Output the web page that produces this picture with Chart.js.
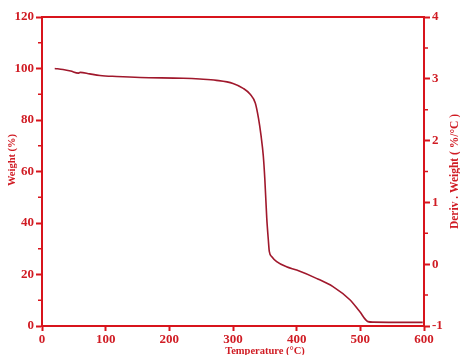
<!DOCTYPE html>
<html>
<head>
<meta charset="utf-8">
<script src="https://cdn.jsdelivr.net/npm/chart.js@4"></script>
<style>
html,body{margin:0;padding:0;background:#fff;}
#wrap{width:460px;height:355px;position:relative;}
</style>
</head>
<body>
<div id="wrap"><canvas id="c" width="460" height="355"></canvas></div>
<script>
// Data
const temperature = [20, 33, 45, 57, 60, 75, 91, 117, 154, 222, 248, 274, 300, 316, 327, 335, 340, 344, 347.6, 350, 353, 355.5, 357, 361, 368.6, 384, 400, 431, 457, 484, 499, 512, 520, 598];
const weight =      [100.0, 99.6, 99.0, 98.2, 98.5, 97.9, 97.3, 96.9, 96.5, 96.2, 95.9, 95.4, 94.2, 92.3, 90.0, 86.6, 80.7, 74.0, 66.0, 57.0, 42.0, 33.4, 29.0, 26.9, 25.0, 23.0, 21.7, 18.5, 15.3, 10.1, 5.6, 1.7, 1.5, 1.4];
const xTicks = [0, 100, 200, 300, 400, 500, 600];
const weightTicks = [0, 20, 40, 60, 80, 100, 120];
const derivTicks = [-1, 0, 1, 2, 3, 4];
const xTitle = "Temperature (°C)";
const yTitle = "Weight (%)";
const y1Title = "Deriv . Weight ( %/°C )";

const RED = '#d8141c';
const TXT = '#d01c24';
const CURVE = '#a0182c';
const FONT = '"Liberation Serif", "Times New Roman", serif';

const points = temperature.map((t, i) => ({x: t, y: weight[i]}));

const decor = {
  id: 'decor',
  afterDraw(chart) {
    const ctx = chart.ctx;
    const a = chart.chartArea;
    const sy = chart.scales.y, sy1 = chart.scales.y1;
    ctx.save();
    // top frame line
    ctx.strokeStyle = RED;
    ctx.lineWidth = 2;
    ctx.beginPath();
    ctx.moveTo(a.left - 1, a.top);
    ctx.lineTo(a.right + 1, a.top);
    ctx.stroke();
    // minor ticks
    ctx.lineWidth = 1.5;
    ctx.beginPath();
    for (let i = 0; i < weightTicks.length - 1; i++) {
      const v = (weightTicks[i] + weightTicks[i + 1]) / 2;
      const p = sy.getPixelForValue(v);
      ctx.moveTo(a.left, p); ctx.lineTo(a.left - 4, p);
    }
    for (let i = 0; i < derivTicks.length - 1; i++) {
      const v = (derivTicks[i] + derivTicks[i + 1]) / 2;
      const p = sy1.getPixelForValue(v);
      ctx.moveTo(a.right, p); ctx.lineTo(a.right + 4, p);
    }
    ctx.stroke();
    // titles
    ctx.fillStyle = TXT;
    ctx.textAlign = 'center';
    ctx.textBaseline = 'middle';
    ctx.font = 'bold 10.5px ' + FONT;
    ctx.save();
    ctx.translate(12, 160);
    ctx.rotate(-Math.PI / 2);
    ctx.fillText(yTitle, 0, 0);
    ctx.restore();
    ctx.font = 'bold 11.5px ' + FONT;
    ctx.save();
    ctx.translate(455, (a.top + a.bottom) / 2);
    ctx.rotate(-Math.PI / 2);
    ctx.fillText(y1Title, 0, 0);
    ctx.restore();
    ctx.font = 'bold 10.5px ' + FONT;
    ctx.fillText(xTitle, 265, 351);
    ctx.restore();
  }
};

new Chart(document.getElementById('c'), {
  type: 'line',
  data: {
    datasets: [{
      data: points,
      borderColor: CURVE,
      borderWidth: 1.6,
      pointRadius: 0,
      fill: false,
      cubicInterpolationMode: 'monotone',
      yAxisID: 'y'
    }]
  },
  options: {
    responsive: false,
    animation: false,
    devicePixelRatio: 1,
    layout: {padding: {top: 17, left: 0, right: 0, bottom: 0}},
    plugins: {legend: {display: false}, tooltip: {enabled: false}},
    scales: {
      x: {
        type: 'linear',
        min: 0, max: 600,
        afterBuildTicks: s => { s.ticks = xTicks.map(v => ({value: v})); },
        afterFit: s => { s.height = 29; },
        grid: {drawOnChartArea: false, drawTicks: true, tickLength: 5, tickColor: RED, tickWidth: 2},
        border: {color: RED, width: 2},
        ticks: {color: TXT, font: {family: FONT, size: 13, weight: 'bold'}, padding: 1, maxRotation: 0}
      },
      y: {
        position: 'left',
        min: 0, max: 120,
        afterBuildTicks: s => { s.ticks = weightTicks.map(v => ({value: v})); },
        afterFit: s => { s.width = 42; },
        grid: {drawOnChartArea: false, drawTicks: true, tickLength: 6, tickColor: RED, tickWidth: 2},
        border: {color: RED, width: 2},
        ticks: {color: TXT, font: {family: FONT, size: 13, weight: 'bold'}, padding: 2}
      },
      y1: {
        position: 'right',
        min: -1, max: 4,
        afterBuildTicks: s => { s.ticks = derivTicks.map(v => ({value: v})); },
        afterFit: s => { s.width = 36; },
        grid: {drawOnChartArea: false, drawTicks: true, tickLength: 6, tickColor: RED, tickWidth: 2},
        border: {color: RED, width: 2},
        ticks: {color: TXT, font: {family: FONT, size: 13, weight: 'bold'}, padding: 2}
      }
    }
  },
  plugins: [decor]
});
</script>
</body>
</html>
